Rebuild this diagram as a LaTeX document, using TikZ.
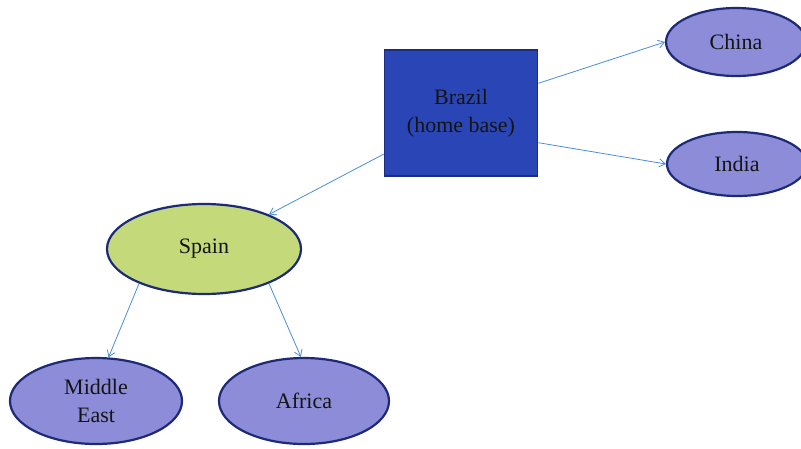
\documentclass[tikz,border=0pt]{standalone}
\usepackage{fontspec}
\setmainfont{Liberation Serif}
\usetikzlibrary{shapes.geometric,arrows.meta}
\definecolor{basefill}{HTML}{2A46B6}
\definecolor{baseedge}{HTML}{1C2C80}
\definecolor{lavender}{HTML}{8C8CD8}
\definecolor{leafgreen}{HTML}{C3D97A}
\definecolor{rimnavy}{HTML}{1C2A78}
\definecolor{linkblue}{HTML}{4A8DE0}
\tikzset{
  label text/.style={font=\fontsize{22}{28}\selectfont, text=black!92, align=center, inner sep=0pt},
  homebox/.style={label text, rectangle, draw=baseedge, fill=basefill, line width=1.6pt,
    minimum width=153pt, minimum height=126pt},
  region/.style={label text, ellipse, draw=rimnavy, fill=lavender, line width=2.2pt},
  hub/.style={region, fill=leafgreen},
  link/.style={draw=linkblue, line width=0.8pt, -{Straight Barb[length=6pt,width=8pt]}}
}
\begin{document}
\begin{tikzpicture}[x=1pt,y=-1pt]
  \useasboundingbox (0,0) rectangle (801,448);
  \node[homebox] (brazil) at (461,113) {Brazil\\(home base)};
  \node[region, minimum width=140pt, minimum height=68pt] (china) at (736,42) {China};
  \node[region, minimum width=140pt, minimum height=64pt] (india) at (737,164) {India};
  \node[hub, minimum width=194pt, minimum height=90pt] (spain) at (204,249) {Spain};
  \node[region, minimum width=172pt, minimum height=86pt] (mideast) at (96,401) {Middle\\East};
  \node[region, minimum width=170pt, minimum height=86pt] (africa) at (304,401) {Africa};

  \draw[link] (brazil.21) -- (china.west);
  \draw[link] (brazil.-21) -- (india.west);
  \draw[link] (brazil.208) -- (spain.28);
  \draw[link] (spain.208) -- (mideast.74);
  \draw[link] (spain.-28) -- (africa.94);
\end{tikzpicture}
\end{document}
